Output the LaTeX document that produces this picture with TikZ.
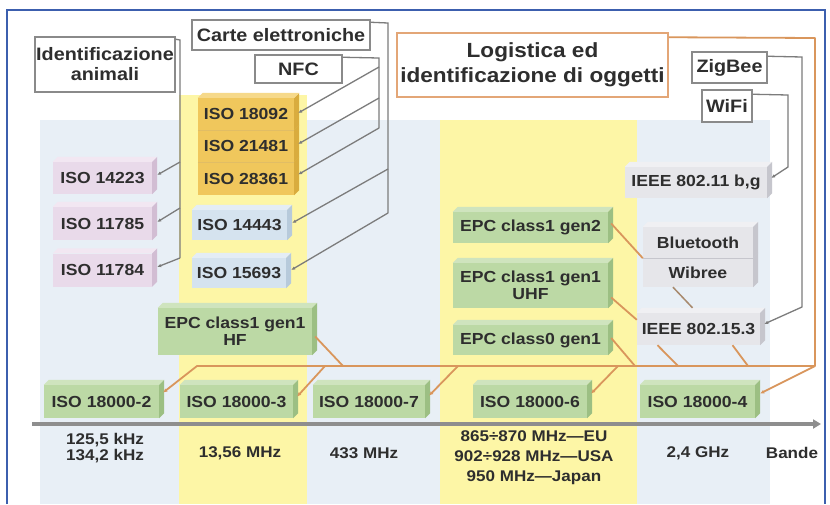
\documentclass[tikz,border=0pt]{standalone}
\usepackage{fontspec}
\setmainfont{Liberation Sans}[FakeStretch=1.1]
\usetikzlibrary{arrows.meta}

\definecolor{frameblue}{HTML}{3C5FAE}
\definecolor{bandblue}{HTML}{E8EFF6}
\definecolor{bandyellow}{HTML}{FDF6A6}
\definecolor{txt}{HTML}{2E2E2E}
\definecolor{graylink}{HTML}{7C7C7C}
\definecolor{orangelink}{HTML}{D9965C}
\definecolor{brownlink}{HTML}{A88A6E}
\definecolor{tagline}{HTML}{8A8A8A}
\definecolor{logiline}{HTML}{E3A677}
\definecolor{axisgray}{HTML}{8E8E8E}
% block faces: front / top / side
\definecolor{pinkF}{HTML}{E9DAEA}\definecolor{pinkT}{HTML}{F2E7F2}\definecolor{pinkS}{HTML}{D2BDD3}
\definecolor{goldF}{HTML}{F0C75C}\definecolor{goldT}{HTML}{F6D98A}\definecolor{goldS}{HTML}{D9AC3E}
\definecolor{skyF}{HTML}{D5E3EF}\definecolor{skyT}{HTML}{E4EDF5}\definecolor{skyS}{HTML}{B7CADB}
\definecolor{grnF}{HTML}{BCD9A5}\definecolor{grnT}{HTML}{CFE4BE}\definecolor{grnS}{HTML}{9CBF83}
\definecolor{gryF}{HTML}{E6E6EA}\definecolor{gryT}{HTML}{F0F0F3}\definecolor{gryS}{HTML}{C6C6CD}

\tikzset{
  boxfont/.style={font=\bfseries\fontsize{16}{17}\selectfont, text=txt},
  tagfont/.style={font=\bfseries\fontsize{18}{20}\selectfont, text=txt},
  block/.style={boxfont, fill=#1, inner sep=0pt, align=center},
  tag/.style={tagfont, draw=tagline, line width=1.5pt, fill=white, inner sep=0pt, align=center},
  glink/.style={draw=graylink, line width=1.3pt},
  gtip/.style={glink, -{Latex[length=4pt,width=3.5pt]}},
  olink/.style={draw=orangelink, line width=1.8pt, line join=round},
  otip/.style={olink, -{Latex[length=4pt,width=4pt]}},
  bandlabel/.style={font=\bfseries\fontsize{15.5}{20}\selectfont, text=txt, align=center, inner sep=0pt},
}

% top and right faces of a block
\newcommand{\topface}[2]{\fill[#2] (#1.north west) -- ++(5,-5) -- ([xshift=5pt,yshift=5pt]#1.north east) -- (#1.north east) -- cycle;}
\newcommand{\sideface}[2]{\fill[#2] (#1.north east) -- ++(5,-5) -- ([xshift=5pt,yshift=5pt]#1.south east) -- (#1.south east) -- cycle;}

\begin{document}
\begin{tikzpicture}[x=1pt,y=-1pt]
\useasboundingbox (0,0) rectangle (830,504);
\fill[white] (0,0) rectangle (830,504);

% frequency bands
\fill[bandblue] (40,120) rectangle (770,504);
\fill[bandyellow] (179,95) rectangle (307,504);
\fill[bandyellow] (440,120) rectangle (637,504);

% frame
\draw[frameblue, line width=2.5pt] (7,504) -- (7,10) -- (825,10) -- (825,504);

% frequency axis
\draw[draw=axisgray, line width=3.5pt, -{Triangle[length=8pt,width=9pt]}] (32,424) -- (821,424);

% animal identification
\node[block=pinkF, minimum width=99pt, minimum height=32pt] (i14223) at (102.5,178) {ISO 14223};
\node[block=pinkF, minimum width=99pt, minimum height=33pt] (i11785) at (102.5,223.5) {ISO 11785};
\node[block=pinkF, minimum width=99pt, minimum height=33pt] (i11784) at (102.5,270) {ISO 11784};
\foreach \n in {i14223,i11785,i11784}{\topface{\n}{pinkT}\sideface{\n}{pinkS}}

% NFC stack
\node[block=goldF, minimum width=96pt, minimum height=33pt] (i28361) at (246,178.5) {ISO 28361};
\node[block=goldF, minimum width=96pt, minimum height=32pt] (i21481) at (246,146) {ISO 21481};
\node[block=goldF, minimum width=96pt, minimum height=32pt] (i18092) at (246,114) {ISO 18092};
\foreach \n in {i28361,i21481,i18092}{\sideface{\n}{goldS}}
\topface{i18092}{goldT}
\draw[goldS!80!white, line width=0.6pt] (i21481.north west) -- (i21481.north east) (i28361.north west) -- (i28361.north east);

% smart cards
\node[block=skyF, minimum width=95pt, minimum height=30pt] (i14443) at (239.5,225) {ISO 14443};
\node[block=skyF, minimum width=94pt, minimum height=30pt] (i15693) at (239,273) {ISO 15693};
\foreach \n in {i14443,i15693}{\topface{\n}{skyT}\sideface{\n}{skyS}}

% EPC / ISO 18000
\node[block=grnF, minimum width=154pt, minimum height=47pt] (epchf) at (235,331.5) {EPC class1 gen1\\HF};
\node[block=grnF, minimum width=155pt, minimum height=31pt] (gen2) at (530.5,227.5) {EPC class1 gen2};
\node[block=grnF, minimum width=155pt, minimum height=45pt] (uhf) at (530.5,285.5) {EPC class1 gen1\\UHF};
\node[block=grnF, minimum width=155pt, minimum height=30pt] (cls0) at (530.5,340) {EPC class0 gen1};
\node[block=grnF, minimum width=115pt, minimum height=33pt] (s2) at (101.5,401.5) {ISO 18000-2};
\node[block=grnF, minimum width=113pt, minimum height=33pt] (s3) at (236.5,401.5) {ISO 18000-3};
\node[block=grnF, minimum width=112pt, minimum height=33pt] (s7) at (369,401.5) {ISO 18000-7};
\node[block=grnF, minimum width=114pt, minimum height=33pt] (s6) at (530,401.5) {ISO 18000-6};
\node[block=grnF, minimum width=115pt, minimum height=33pt] (s4) at (697.5,401.5) {ISO 18000-4};
\foreach \n in {epchf,gen2,uhf,cls0,s2,s3,s7,s6,s4}{\topface{\n}{grnT}\sideface{\n}{grnS}}

% wireless standards
\node[block=gryF, minimum width=142pt, minimum height=31pt] (ieee11) at (696,182.5) {IEEE 802.11 b,g};
\node[block=gryF, minimum width=110pt, minimum height=29pt] (wib) at (698,272.5) {Wibree};
\node[block=gryF, minimum width=110pt, minimum height=31pt] (bt) at (698,242.5) {Bluetooth};
\node[block=gryF, minimum width=123pt, minimum height=32pt] (ieee15) at (698.5,329) {IEEE 802.15.3};
\foreach \n in {ieee11,bt,ieee15}{\topface{\n}{gryT}\sideface{\n}{gryS}}
\sideface{wib}{gryS}
\draw[gryS, line width=0.6pt] (bt.south west) -- (bt.south east);

% application tags
\node[tag, minimum width=140pt, minimum height=55pt] (animali) at (105,64.5) {Identificazione\\animali};
\node[tag, minimum width=178pt, minimum height=30pt] (carte) at (281,35) {Carte elettroniche};
\node[tag, minimum width=87pt, minimum height=28pt] (nfc) at (298.5,69) {NFC};
\node[tag, draw=logiline, minimum width=271pt, minimum height=64pt,
      font=\bfseries\fontsize{20.5}{25}\selectfont] (logi) at (532.5,65) {Logistica ed\\identificazione di oggetti};
\node[tag, minimum width=75pt, minimum height=31pt] (zig) at (729.5,67.5) {ZigBee};
\node[tag, minimum width=50pt, minimum height=32pt] (wifi) at (727,106) {WiFi};

% gray links: animal identification
\coordinate (aTop) at (180,40);
\coordinate (a1) at (180,162);
\coordinate (a2) at (180,208);
\coordinate (a3) at (180,258);
\draw[glink] ([yshift=-3pt]animali.north east) -- (aTop) -- (a3);
\draw[gtip] (a1) -- ([xshift=5pt,yshift=3pt]i14223.east);
\draw[gtip] (a2) -- ([xshift=5pt,yshift=1.5pt]i11785.east);
\draw[gtip] (a3) -- ([xshift=5pt,yshift=3pt]i11784.east);

% gray links: NFC
\coordinate (nTop) at (379,58);
\coordinate (n1) at (379,67);
\coordinate (n2) at (379,98);
\coordinate (n3) at (379,128);
\draw[glink] ([yshift=-3pt]nfc.north east) -- (nTop) -- (n3);
\draw[gtip] (n1) -- ([xshift=4pt,yshift=1pt]i18092.east);
\draw[gtip] (n2) -- ([xshift=4pt,yshift=2pt]i21481.east);
\draw[gtip] (n3) -- ([xshift=4pt,yshift=4pt]i28361.east);

% gray links: smart cards
\coordinate (cTop) at (388,23);
\coordinate (c1) at (388,169);
\coordinate (c2) at (388,213);
\draw[glink] ([yshift=-3pt]carte.north east) -- (cTop) -- (c2);
\draw[gtip] (c1) -- ([xshift=5pt,yshift=2pt]i14443.east);
\draw[gtip] (c2) -- ([xshift=5pt,yshift=3pt]i15693.east);

% gray links: ZigBee and WiFi
\coordinate (z1) at (802,57);
\coordinate (z2) at (802,307);
\draw[gtip] ([yshift=-5pt]zig.north east) -- (z1) -- (z2) -- ([xshift=4pt,yshift=5pt]ieee15.east);
\coordinate (w1) at (788,95);
\coordinate (w2) at (788,167);
\draw[gtip] ([yshift=-5pt]wifi.north east) -- (w1) -- (w2) -- ([xshift=4pt,yshift=4.5pt]ieee11.east);

% orange bus: logistics
\coordinate (b0) at (815,38);
\coordinate (b1) at (815,366);
\coordinate (b2) at (197,366);
\coordinate (bs3) at (325,366);
\coordinate (bs7) at (458,366);
\coordinate (bs6) at (618,366);
\coordinate (bhf) at (343,366);
\coordinate (bc0) at (635,366);
\coordinate (be1) at (678,366);
\coordinate (be2) at (748,366);
\draw[otip] ([yshift=-5pt]logi.north east) -- (b0) -- (b1) -- (b2) -- ([xshift=4pt,yshift=9pt]s2.east);
\draw[otip] (bs3) -- ([xshift=4pt,yshift=5pt]s3.east);
\draw[otip] (bs7) -- ([xshift=4pt,yshift=6pt]s7.east);
\draw[otip] (bs6) -- ([xshift=4pt,yshift=8pt]s6.east);
\draw[otip] (b1) -- ([xshift=5pt,yshift=8pt]s4.east);
\draw[olink] ([xshift=3pt,yshift=-5pt]epchf.east) -- (bhf);
\draw[olink] ([xshift=3pt,yshift=2pt]cls0.east) -- (bc0);
\draw[olink] ([xshift=-41pt]ieee15.south) -- (be1);
\draw[olink] ([xshift=34pt]ieee15.south) -- (be2);
\draw[olink] ([xshift=3pt,yshift=4pt]gen2.east) -- (bt.south west);
\draw[olink] ([xshift=3pt,yshift=-12pt]uhf.east) -- ([yshift=-7pt]ieee15.north west);
\draw[draw=brownlink, line width=1.5pt] ([xshift=-25pt]wib.south) -- ([xshift=-6pt,yshift=5pt]ieee15.north);

% band labels
\node[bandlabel, font=\bfseries\fontsize{15.5}{16}\selectfont] (f1) at (105,448) {125,5 kHz\\134,2 kHz};
\node[bandlabel] (f2) at (240,453) {13,56 MHz};
\node[bandlabel] (f3) at (364,453) {433 MHz};
\node[bandlabel] (f4) at (534,458) {865÷870 MHz—EU\\902÷928 MHz—USA\\950 MHz—Japan};
\node[bandlabel] (f5) at (698,453) {2,4 GHz};
\node[bandlabel] (f6) at (792,453) {Bande};
\end{tikzpicture}
\end{document}
